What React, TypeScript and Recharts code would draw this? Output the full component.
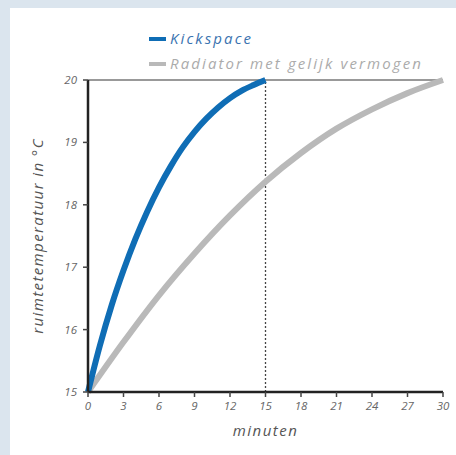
import React from 'react'
import { LineChart, Line, XAxis, YAxis, ReferenceLine } from 'recharts'

const kickspaceMinutes = [0, 1, 2, 3, 4, 5, 6, 7, 8, 9, 10, 11, 12, 13, 14, 15]
const kickspaceTemps = [15.0, 15.74, 16.39, 16.95, 17.45, 17.89, 18.28, 18.62, 18.92, 19.17, 19.38, 19.56, 19.71, 19.83, 19.92, 20.0]

const radiatorMinutes = [0, 3, 6, 9, 12, 15, 18, 21, 24, 27, 30]
const radiatorTemps = [15.0, 15.8, 16.55, 17.22, 17.83, 18.37, 18.83, 19.22, 19.53, 19.79, 20.0]

const xTicks = [0, 3, 6, 9, 12, 15, 18, 21, 24, 27, 30]
const yTicks = [15, 16, 17, 18, 19, 20]

const kickspaceData = kickspaceMinutes.map((m, i) => ({ minuten: m, temp: kickspaceTemps[i] }))
const radiatorData = radiatorMinutes.map((m, i) => ({ minuten: m, temp: radiatorTemps[i] }))

const font = '"Open Sans", "Noto Sans", sans-serif'
const blue = '#0f6db5'
const grey = '#b9b9b9'

export default function App() {
  return (
    <div style={{ position: 'absolute', left: 0, top: 0, width: 456, height: 455, background: '#dbe5ee', overflow: 'hidden' }}>
      <div style={{ position: 'absolute', left: 10, top: 8, right: 0, bottom: 0, background: '#ffffff' }} />
      <div style={{ position: 'absolute', left: 149, top: 26, fontFamily: font, fontStyle: 'italic', fontSize: 15, letterSpacing: 2.1, lineHeight: '25px' }}>
        <div style={{ color: '#3a73b0' }}>
          <span style={{ display: 'inline-block', width: 17, height: 4, background: blue, verticalAlign: 'middle', marginRight: 4, marginTop: -2 }} />
          Kickspace
        </div>
        <div style={{ color: '#ababab' }}>
          <span style={{ display: 'inline-block', width: 17, height: 4, background: grey, verticalAlign: 'middle', marginRight: 4, marginTop: -2 }} />
          Radiator met gelijk vermogen
        </div>
      </div>
      <div style={{ position: 'absolute', left: 0, top: 0 }}>
        <LineChart width={456} height={455} margin={{ top: 80, right: 13, bottom: 33, left: 28 }}>
          <XAxis
            dataKey="minuten"
            type="number"
            domain={[0, 30]}
            ticks={xTicks}
            allowDuplicatedCategory={false}
            axisLine={{ stroke: '#222', strokeWidth: 2.5 }}
            tickLine={{ stroke: '#444', strokeWidth: 1.5 }}
            tickSize={5}
            tickMargin={5}
            height={30}
            tick={{ fill: '#666', fontSize: 11.5, fontStyle: 'italic', fontFamily: font }}
            label={{ value: 'minuten', position: 'bottom', offset: 3, style: { fill: '#555', fontSize: 15, letterSpacing: 1.5, fontStyle: 'italic', fontFamily: font } }}
          />
          <YAxis
            type="number"
            domain={[15, 20]}
            ticks={yTicks}
            axisLine={{ stroke: '#222', strokeWidth: 2.5 }}
            tickLine={{ stroke: '#444', strokeWidth: 1.5 }}
            tickSize={5}
            tickMargin={6}
            width={60}
            tick={{ fill: '#666', fontSize: 11.5, fontStyle: 'italic', fontFamily: font }}
            label={{ value: 'ruimtetemperatuur in °C', angle: -90, position: 'insideLeft', offset: 10, style: { textAnchor: 'middle', fill: '#555', fontSize: 15, letterSpacing: 1.4, fontStyle: 'italic', fontFamily: font } }}
          />
          <ReferenceLine y={20} stroke="#777" strokeWidth={1.5} />
          <ReferenceLine x={15} stroke="#444" strokeWidth={1.3} strokeDasharray="2 2" />
          <Line
            data={radiatorData}
            dataKey="temp"
            type="monotone"
            stroke={grey}
            strokeWidth={6}
            dot={false}
            isAnimationActive={false}
          />
          <Line
            data={kickspaceData}
            dataKey="temp"
            type="monotone"
            stroke={blue}
            strokeWidth={6}
            dot={false}
            isAnimationActive={false}
          />
        </LineChart>
      </div>
    </div>
  )
}
